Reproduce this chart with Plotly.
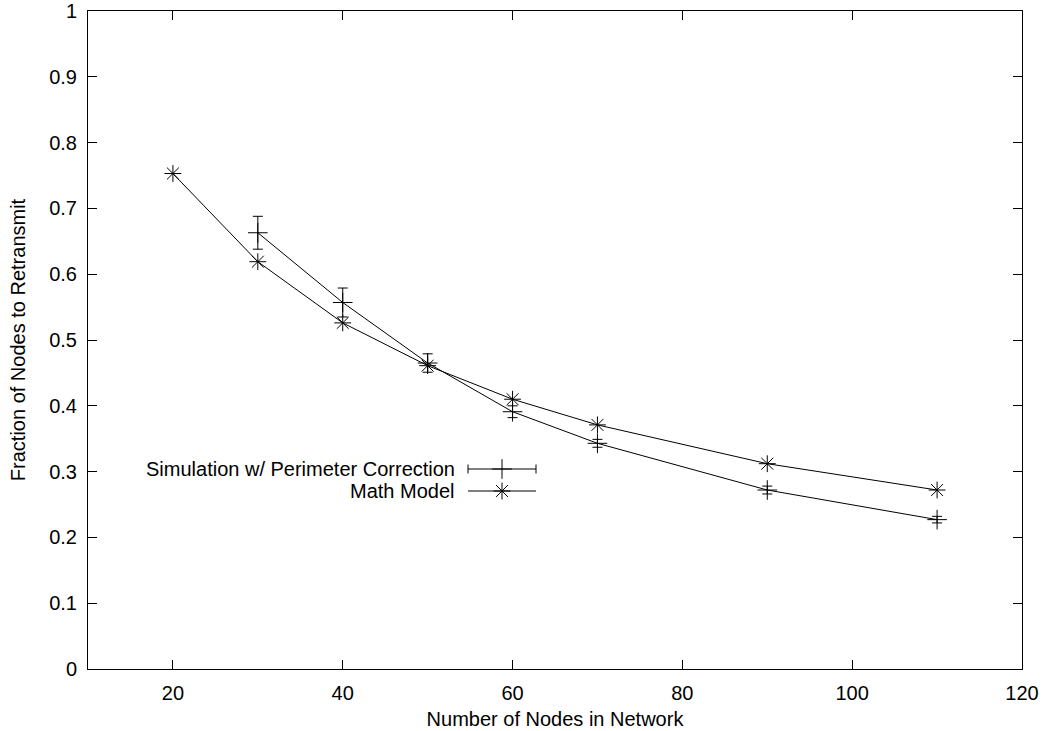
import plotly.graph_objects as go

# Data
x_sim = [30, 40, 50, 60, 70, 90, 110]
y_sim = [0.663, 0.557, 0.465, 0.391, 0.343, 0.272, 0.227]
err_sim = [0.025, 0.022, 0.014, 0.009, 0.006, 0.006, 0.005]

x_math = [20, 30, 40, 50, 60, 70, 90, 110]
y_math = [0.753, 0.619, 0.526, 0.461, 0.410, 0.371, 0.312, 0.272]

x_ticks = [20, 40, 60, 80, 100, 120]
y_ticks = [0, 0.1, 0.2, 0.3, 0.4, 0.5, 0.6, 0.7, 0.8, 0.9, 1]
y_tick_text = ["0", "0.1", "0.2", "0.3", "0.4", "0.5", "0.6", "0.7", "0.8", "0.9", "1"]

legend_labels = ["Simulation w/ Perimeter Correction", "Math Model"]

FONT = "Liberation Sans, Arial, Helvetica, sans-serif"
FS = 20
W, H = 1045, 731
L, R, T, B = 88, 23, 11, 62
PW, PH = W - L - R, H - T - B


def px(xp):
    return (xp - L) / PW


def py(yp):
    return (H - B - yp) / PH


fig = go.Figure()

fig.add_trace(go.Scatter(
    x=x_sim, y=y_sim, mode="lines+markers", name=legend_labels[0],
    line=dict(color="black", width=1),
    marker=dict(symbol="cross-thin-open", size=14, color="black",
                line=dict(color="black", width=1)),
    error_y=dict(type="data", array=err_sim, visible=True,
                 color="black", thickness=1, width=5),
    showlegend=False,
))

fig.add_trace(go.Scatter(
    x=x_math, y=y_math, mode="lines+markers", name=legend_labels[1],
    line=dict(color="black", width=1),
    marker=dict(symbol="asterisk-open", size=14, color="black",
                line=dict(color="black", width=1)),
    showlegend=False,
))

# Manual gnuplot-style legend (text left of sample)
leg_text_x = 455
leg_x0, leg_x1 = 468, 536
leg_mid = (leg_x0 + leg_x1) / 2
leg_rows = [469, 491]

shapes = []
annotations = []
for i, (label, yrow) in enumerate(zip(legend_labels, leg_rows)):
    annotations.append(dict(
        x=px(leg_text_x), y=py(yrow), xref="paper", yref="paper",
        text=label, showarrow=False, xanchor="right", yanchor="middle",
        xshift=2, font=dict(family=FONT, size=FS, color="black")))
    shapes.append(dict(type="line", xref="paper", yref="paper",
                       x0=px(leg_x0), x1=px(leg_x1), y0=py(yrow), y1=py(yrow),
                       line=dict(color="black", width=1)))
    if i == 0:
        for xe in (leg_x0, leg_x1):
            shapes.append(dict(type="line", xref="paper", yref="paper",
                               x0=px(xe), x1=px(xe), y0=py(yrow - 4.5), y1=py(yrow + 4.5),
                               line=dict(color="black", width=1)))

fig.add_trace(go.Scatter(
    x=[px(leg_mid)], y=[py(leg_rows[0])], xaxis="x2", yaxis="y2", mode="markers",
    marker=dict(symbol="cross-thin-open", size=14, color="black",
                line=dict(color="black", width=1)),
    showlegend=False, hoverinfo="skip"))
fig.add_trace(go.Scatter(
    x=[px(leg_mid)], y=[py(leg_rows[1])], xaxis="x2", yaxis="y2", mode="markers",
    marker=dict(symbol="asterisk-open", size=14, color="black",
                line=dict(color="black", width=1)),
    showlegend=False, hoverinfo="skip"))

axis_common = dict(
    showline=True, linecolor="black", linewidth=1, mirror="ticks",
    ticks="inside", ticklen=9, tickcolor="black", tickwidth=1,
    showgrid=False, zeroline=False, automargin=False,
    tickfont=dict(family=FONT, size=FS, color="black"),
)

fig.update_layout(
    width=W, height=H,
    margin=dict(l=L, r=R, t=T, b=B),
    paper_bgcolor="white", plot_bgcolor="white",
    font=dict(family=FONT, size=FS, color="black"),
    xaxis=dict(range=[10, 120], tickvals=x_ticks, ticktext=[str(v) for v in x_ticks],
               ticklabelstandoff=6,
               title=dict(text="Number of Nodes in Network",
                          font=dict(family=FONT, size=FS), standoff=8),
               **axis_common),
    yaxis=dict(range=[0, 1], tickvals=y_ticks, ticktext=y_tick_text,
               ticklabelstandoff=6,
               title=dict(text="Fraction of Nodes to Retransmit",
                          font=dict(family=FONT, size=FS), standoff=18),
               **axis_common),
    xaxis2=dict(range=[0, 1], overlaying="x", visible=False, fixedrange=True),
    yaxis2=dict(range=[0, 1], overlaying="y", visible=False, fixedrange=True),
    shapes=shapes,
    annotations=annotations,
    showlegend=False,
)

fig.write_html("out.html", config={"displayModeBar": False},
               post_script="document.body.style.margin='0';")
